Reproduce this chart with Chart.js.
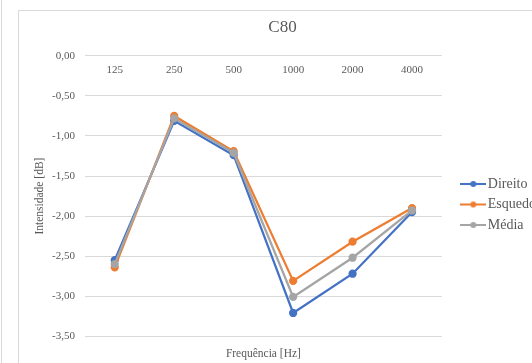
<!DOCTYPE html>
<html>
<head>
<meta charset="utf-8">
<script src="https://cdn.jsdelivr.net/npm/chart.js@4.4.1/dist/chart.umd.min.js"></script>
<style>
    html, body { margin: 0; padding: 0; background: #fff; overflow: hidden; }
    body { width: 532px; height: 363px; position: relative; }
    #edge { position: absolute; left: 1px; top: 0; width: 1px; height: 363px; background: #d9d9d9; }
    #frame { position: absolute; left: 18px; top: 10px; border-left: 1px solid #d9d9d9; border-top: 1px solid #d9d9d9; }
    #frame canvas { display: block; }
</style>
</head>
<body>
<div id="edge"></div>
<div id="frame"><canvas id="c80" width="527" height="352"></canvas></div>
<script>
// frequency bands
var categories = ['125', '250', '500', '1000', '2000', '4000'];

// series values (dB)
var direito = [-2.55, -0.81, -1.24, -3.21, -2.72, -1.95];
var esquedo = [-2.64, -0.75, -1.19, -2.81, -2.32, -1.90];
var media = [-2.60, -0.78, -1.21, -3.01, -2.52, -1.93];

// y axis ticks
var yMin = -3.5;
var yMax = 0;
var yStep = 0.5;

var seriesNames = ['Direito', 'Esquedo', 'Média'];
var seriesColors = ['#4472C4', '#ED7D31', '#A5A5A5'];

var textColor = '#595959';
var serif = '"Liberation Serif", "Times New Roman", serif';

// legend marker: short line with a dot in the middle
function legendMarker(color) {
    var img = document.createElement('canvas');
    img.width = 26;
    img.height = 8;
    var ctx = img.getContext('2d');
    ctx.strokeStyle = color;
    ctx.lineWidth = 2;
    ctx.beginPath();
    ctx.moveTo(0, 4);
    ctx.lineTo(26, 4);
    ctx.stroke();
    ctx.fillStyle = color;
    ctx.beginPath();
    ctx.arc(13, 4, 3, 0, Math.PI * 2);
    ctx.fill();
    return img;
}

function makeDataset(index, values, order) {
    return {
        label: seriesNames[index],
        data: values,
        borderColor: seriesColors[index],
        backgroundColor: seriesColors[index],
        pointBackgroundColor: seriesColors[index],
        pointBorderColor: seriesColors[index],
        pointStyle: 'circle',
        borderWidth: 2.25,
        pointRadius: 3,
        tension: 0,
        order: order
    };
}

var canvas = document.getElementById('c80');

var chart = new Chart(canvas, {
    type: 'line',
    data: {
        labels: categories,
        datasets: [
            makeDataset(0, direito, 2),
            makeDataset(1, esquedo, 1),
            makeDataset(2, media, 0)
        ]
    },
    options: {
        responsive: false,
        animation: false,
        layout: { padding: { left: 0, right: 0, top: 0, bottom: 0 } },
        scales: {
            x: {
                type: 'category',
                position: { y: 0 },
                offset: true,
                grid: { display: false, drawTicks: false },
                border: { display: false },
                ticks: {
                    color: textColor,
                    font: { family: serif, size: 11 },
                    padding: 8,
                    maxRotation: 0
                }
            },
            y: {
                position: 'left',
                min: yMin,
                max: yMax,
                grid: { color: '#d9d9d9', lineWidth: 1, drawTicks: false },
                border: { display: false },
                ticks: {
                    stepSize: yStep,
                    color: textColor,
                    font: { family: serif, size: 11 },
                    padding: 10,
                    callback: function (value) {
                        return Number(value).toFixed(2).replace('.', ',');
                    }
                },
                title: {
                    display: true,
                    text: 'Intensidade [dB]',
                    color: textColor,
                    font: { family: serif, size: 11.5 },
                    padding: { top: 14, bottom: 4 }
                },
                afterFit: function (scale) {
                    scale.width = 66;
                }
            },
            gap: {
                position: 'right',
                min: yMin,
                max: yMax,
                grid: { display: false, drawTicks: false },
                border: { display: false },
                ticks: { display: false },
                afterFit: function (scale) {
                    scale.width = 17.5;
                }
            }
        },
        plugins: {
            tooltip: { enabled: false },
            title: {
                display: true,
                text: 'C80',
                color: textColor,
                font: { family: serif, size: 17, weight: 'normal' },
                padding: { top: 6.5, bottom: 18 }
            },
            subtitle: {
                display: true,
                position: 'bottom',
                fullSize: false,
                text: 'Frequência [Hz]',
                color: textColor,
                font: { family: serif, size: 11.5, weight: 'normal' },
                padding: { top: 11, bottom: 2 }
            },
            legend: {
                position: 'right',
                fullSize: false,
                title: {
                    display: true,
                    text: ' ',
                    font: { family: serif, size: 13 },
                    padding: 0.6
                },
                labels: {
                    usePointStyle: true,
                    pointStyleWidth: 15,
                    padding: 6.5,
                    color: textColor,
                    font: { family: serif, size: 14 },
                    generateLabels: function (chart) {
                        var items = Chart.defaults.plugins.legend.labels.generateLabels(chart);
                        items.forEach(function (item) {
                            item.pointStyle = legendMarker(seriesColors[item.datasetIndex]);
                        });
                        return items;
                    },
                    sort: function (a, b) {
                        return a.datasetIndex - b.datasetIndex;
                    }
                }
            }
        }
    }
});
</script>
</body>
</html>
